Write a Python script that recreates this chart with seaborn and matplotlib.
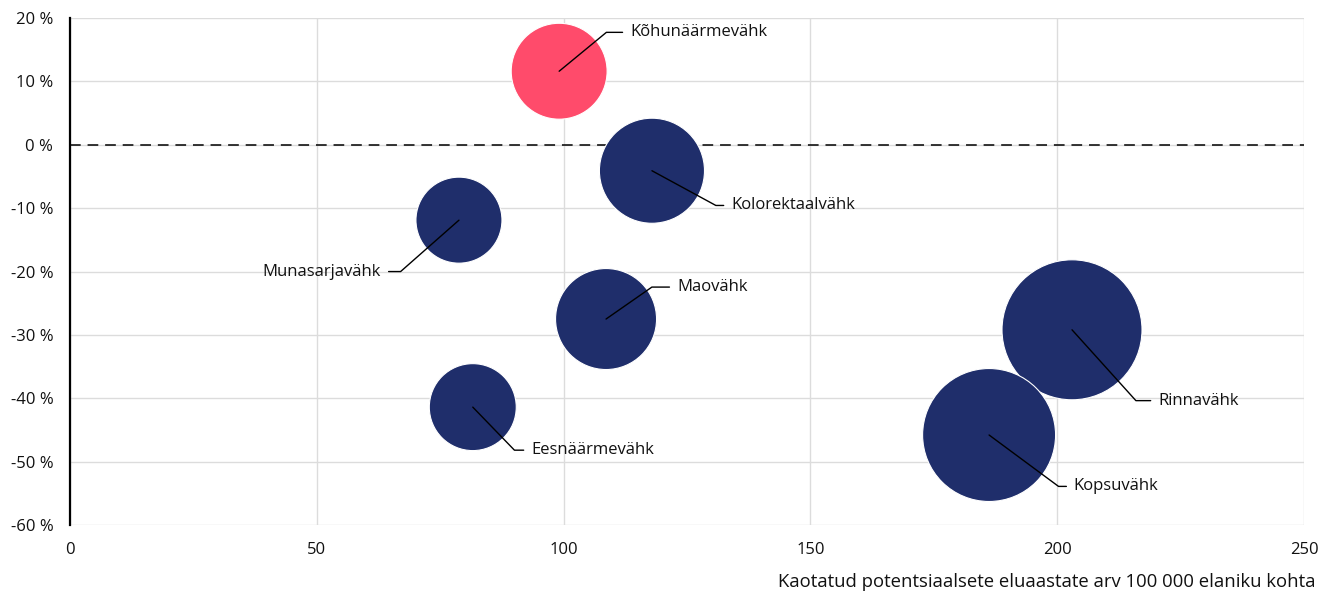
import numpy as np
import pandas as pd
import matplotlib.pyplot as plt
import seaborn as sns

# DATA
cancers = ["Kõhunäärmevähk", "Kolorektaalvähk", "Munasarjavähk", "Maovähk",
           "Eesnäärmevähk", "Rinnavähk", "Kopsuvähk"]
lost_years = [99.1, 117.9, 78.8, 108.6, 81.6, 203.0, 186.2]
change_pct = [11.6, -4.1, -11.9, -27.5, -41.4, -29.2, -45.8]
bubble_size = [2300, 2760, 1850, 2550, 1890, 4900, 4420]
group = ["kasv", "langus", "langus", "langus", "langus", "langus", "langus"]

x_ticks = [0, 50, 100, 150, 200, 250]
y_ticks = [20, 10, 0, -10, -20, -30, -40, -50, -60]
x_title = "Kaotatud potentsiaalsete eluaastate arv 100 000 elaniku kohta"

# label leader lines: (elbow dx, elbow dy, text dx) in points from bubble centre
label_offsets = [(34, 28, 51), (46, -25, 57), (-42, -37, -56), (33, 23, 51),
                 (30, -31, 42), (46, -51, 62), (50, -37, 61)]

df = pd.DataFrame({"name": cancers, "x": lost_years, "y": change_pct,
                   "size": bubble_size, "group": group})

NAVY = "#1F2E6B"
PINK = "#FF4B6B"
TXT = "#111111"

sns.set_theme(style="whitegrid")
plt.rcParams['font.family'] = ['Open Sans', 'DejaVu Sans']

fig = plt.figure(figsize=(13.22, 5.92), dpi=100)
ax = fig.add_axes([70 / 1322, 1 - 525 / 592, (1304 - 70) / 1322, (525 - 18) / 592])

# px^2 -> points^2 for marker area at 100 dpi
k = (2 * 0.72) ** 2
smin, smax = min(bubble_size), max(bubble_size)
sns.scatterplot(data=df, x="x", y="y", size="size", hue="group",
                palette={"kasv": PINK, "langus": NAVY},
                sizes=(k * smin, k * smax), size_norm=(smin, smax),
                edgecolor="white", linewidth=0.8, alpha=1,
                legend=False, ax=ax, zorder=2)

ax.axhline(0, color="black", linewidth=1.1, linestyle=(0, (7, 4.5)), zorder=1)

for (name, x, y), (ex, ey, tx) in zip(zip(cancers, lost_years, change_pct), label_offsets):
    ang = np.degrees(np.arctan2(ey, ex))
    ax.annotate(name, xy=(x, y), xytext=(tx, ey), textcoords="offset points",
                ha="left" if tx > 0 else "right", va="center", fontsize=12,
                color=TXT,
                arrowprops=dict(arrowstyle="-", color="black", lw=1.0,
                                shrinkA=3, shrinkB=0,
                                connectionstyle=f"angle,angleA=0,angleB={ang}"),
                zorder=4)

ax.set_xlim(0, 250)
ax.set_ylim(-60, 20)
ax.set_xticks(x_ticks)
ax.set_xticklabels([str(t) for t in x_ticks])
ax.set_yticks(y_ticks)
ax.set_yticklabels([f"{t} %" for t in y_ticks])
ax.tick_params(axis="both", labelsize=12, length=0, pad=12, colors=TXT)
ax.set_xlabel("")
ax.set_ylabel("")

ax.grid(True, color="#DCDCDC", linewidth=1.0)
ax.set_axisbelow(True)
for side in ["top", "right", "bottom"]:
    ax.spines[side].set_visible(False)
ax.spines["left"].set_color("black")
ax.spines["left"].set_linewidth(1.6)
ax.spines["left"].set_zorder(3)

fig.text(1316 / 1322, 1 - 582 / 592, x_title, ha="right", va="center",
         fontsize=13.3, color=TXT)

fig.savefig("out.png", dpi=100, facecolor="white")
